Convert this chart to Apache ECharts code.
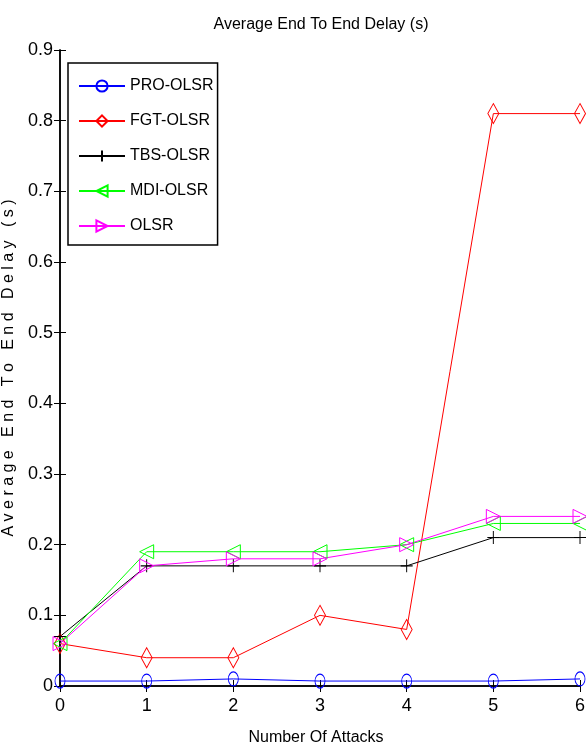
<!DOCTYPE html>
<html><head><meta charset="utf-8">
<script src="https://cdn.jsdelivr.net/npm/echarts@6/dist/echarts.min.js"></script>
<style>html,body{margin:0;padding:0;background:#fff}#c{width:586px;height:747px}</style>
</head><body><div id="c"></div>
<script>
var attacks = [0, 1, 2, 3, 4, 5, 6];
var seriesNames = ['PRO-OLSR', 'FGT-OLSR', 'TBS-OLSR', 'MDI-OLSR', 'OLSR'];
var proOlsr = [0.007, 0.007, 0.010, 0.007, 0.007, 0.007, 0.010];
var fgtOlsr = [0.060, 0.040, 0.040, 0.100, 0.080, 0.810, 0.810];
var tbsOlsr = [0.070, 0.170, 0.170, 0.170, 0.170, 0.210, 0.210];
var mdiOlsr = [0.060, 0.190, 0.190, 0.190, 0.200, 0.230, 0.230];
var olsr    = [0.060, 0.170, 0.180, 0.180, 0.200, 0.240, 0.240];
var yTicks = [0, 0.1, 0.2, 0.3, 0.4, 0.5, 0.6, 0.7, 0.8, 0.9];

var values = [proOlsr, fgtOlsr, tbsOlsr, mdiOlsr, olsr];
var colors = ['#0000ff', '#ff0000', '#000000', '#00ff00', '#ff00ff'];
var symbols = [
  'path://M5,0 A5,7 0 1,1 5,14 A5,7 0 1,1 5,0 Z',
  'path://M5,0 L10,10 L5,20 L0,10 Z',
  'path://M0,5 L10,5 M5,0 L5,10',
  'path://M14,0 L0,7 L14,14 Z',
  'path://M0,0 L14,7 L0,14 Z'
];
var sizes = [[10, 14], [11, 20], [12, 13], [14, 14], [14, 14]];
var font = '"Liberation Sans Narrow", "Liberation Sans", Arial, sans-serif';

function pairs(arr) { return attacks.map(function (x, i) { return [x, arr[i]]; }); }

var series = seriesNames.map(function (n, i) {
  return {
    name: n, type: 'line', data: pairs(values[i]),
    symbol: symbols[i], symbolSize: sizes[i], showAllSymbol: true,
    lineStyle: { color: colors[i], width: 1 },
    itemStyle: { color: 'rgba(0,0,0,0)', borderColor: colors[i], borderWidth: 1 },
    emphasis: { disabled: true }, animation: false
  };
});

var chart = echarts.init(document.getElementById('c'));
chart.setOption({
  backgroundColor: '#fff',
  animation: false,
  title: {
    text: 'Average End To End Delay (s)', left: 316, textAlign: 'center', top: 12,
    textStyle: { fontFamily: font, fontSize: 16, fontWeight: 'normal', color: '#000' }
  },
  legend: {
    orient: 'vertical', left: 68, top: 63, data: seriesNames,
    itemWidth: 46, itemHeight: 14, itemGap: 19,
    padding: [15, 4, 11, 10],
    borderColor: '#000', borderWidth: 1.5, backgroundColor: '#fff',
    textStyle: { fontFamily: font, fontSize: 16, color: '#000' }
  },
  grid: { left: 60, right: 6, top: 50, bottom: 61, containLabel: false, outerBoundsMode: 'none' },
  xAxis: [{
    type: 'value', min: 0, max: 6, interval: 1,
    name: 'Number Of Attacks', nameLocation: 'middle', nameGap: 44,
    nameTextStyle: { fontFamily: font, fontSize: 16, color: '#000', padding: [0, 8, 0, 0] },
    axisLine: { lineStyle: { color: '#000', width: 1.5 } },
    axisTick: { inside: true, length: 6, lineStyle: { color: '#000' } },
    axisLabel: { fontFamily: font, fontSize: 18, color: '#000', margin: 11 },
    splitLine: { show: false }
  }, {
    type: 'value', min: 0, max: 6, interval: 1, position: 'top',
    axisLine: { lineStyle: { color: '#000', width: 1.5 } },
    axisTick: { inside: true, length: 6, lineStyle: { color: '#000' } },
    axisLabel: { show: false }, splitLine: { show: false }
  }],
  yAxis: [{
    type: 'value', min: 0, max: 0.9, interval: 0.1,
    name: 'A v e r a g e   E n d   T o   E n d   D e l a y   ( s )',
    nameLocation: 'middle', nameGap: 33,
    nameTextStyle: { fontFamily: font, fontSize: 16, color: '#000' },
    axisLine: { lineStyle: { color: '#000', width: 1.5 } },
    axisTick: { inside: true, length: 6, lineStyle: { color: '#000' } },
    axisLabel: {
      fontFamily: font, fontSize: 18, color: '#000', margin: 7,
      formatter: function (v) { var t = yTicks.find(function (k) { return Math.abs(k - v) < 1e-9; }); return t === undefined ? '' : String(t); }
    },
    splitLine: { show: false }
  }, {
    type: 'value', min: 0, max: 0.9, interval: 0.1, position: 'right',
    axisLine: { lineStyle: { color: '#000', width: 1.5 } },
    axisTick: { inside: true, length: 6, lineStyle: { color: '#000' } },
    axisLabel: { show: false }, splitLine: { show: false }
  }],
  series: series
});
</script></body></html>
